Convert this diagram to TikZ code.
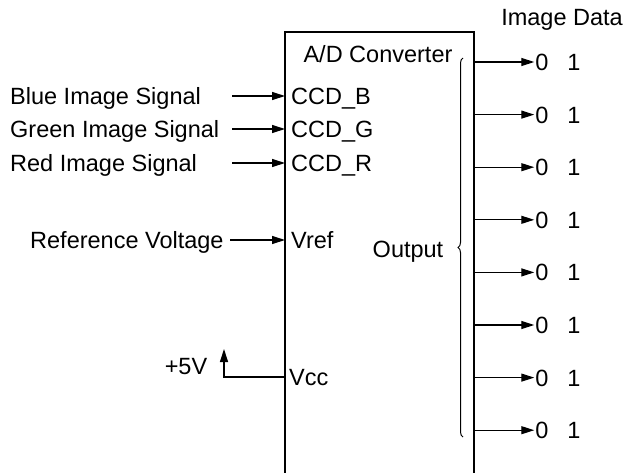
\documentclass[tikz,border=0pt]{standalone}
\usepackage{fontspec}
\setmainfont{Liberation Sans}
\usetikzlibrary{arrows.meta,decorations.pathreplacing,calc}
\begin{document}
\begin{tikzpicture}[x=1pt,y=-1pt,
  lbl/.style={font=\fontsize{23.5}{27}\selectfont, inner xsep=0pt, inner ysep=0pt, text height=16.8pt, text depth=0pt},
  pin/.style={lbl, anchor=west, inner xsep=6pt},
  conn/.style={line width=1.2pt},
  arr/.style={conn,-{Triangle[length=13pt,width=8pt]}},
  brc/.style={line width=1pt, decorate, decoration={brace, amplitude=5pt, aspect=0.5}},
]
\useasboundingbox (0,0) rectangle (627,472);
% converter box (open at the bottom edge of the picture)
\coordinate (bl) at (285,480);
\coordinate (tl) at (285,32);
\coordinate (tr) at (474,32);
\coordinate (br) at (474,480);
\draw[conn] (bl) -- (tl) -- (tr) -- (br);

\node[lbl] (title) at (378,54) {A/D Converter};
\node[lbl] (imgdata) at (562,17) {Image Data};
\node[lbl] (output) at (408,249) {Output};

% input pins
\node[pin] (ccdb) at (285,96) {CCD\_B};
\node[pin] (ccdg) at (285,129) {CCD\_G};
\node[pin] (ccdr) at (285,163) {CCD\_R};
\node[pin] (vref) at (285,240) {Vref};
\node[pin, inner xsep=4pt] (vcc) at (285,377) {Vcc};

% input labels
\node[lbl, anchor=west] (blue) at (10,96) {Blue Image Signal};
\node[lbl, anchor=west] (green) at (10,129) {Green Image Signal};
\node[lbl, anchor=west] (red) at (10,163) {Red Image Signal};
\node[lbl, anchor=west] (refv) at (30,240) {Reference Voltage};
\node[lbl] (p5v) at (186,366) {+5V};

\draw[arr] ($(ccdb.west)+(-53,0)$) -- (ccdb.west);
\draw[arr] ($(ccdg.west)+(-53,0)$) -- (ccdg.west);
\draw[arr] ($(ccdr.west)+(-53,0)$) -- (ccdr.west);
\draw[arr] ($(vref.west)+(-55,0)$) -- (vref.west);
\coordinate (vtip) at (224,349);
\draw[arr] (vcc.west) -| (vtip);

% outputs
\foreach \i in {0,...,7}{
  \pgfmathsetmacro{\yy}{62+52.6*\i}
  \coordinate (o\i) at (474,\yy);
  \node[lbl] (z\i) at (542,\yy) {0};
  \node[lbl] (u\i) at (574,\yy) {1};
  \draw[arr, shorten >=1pt] (o\i) -- (z\i.west);
}

% brace
\coordinate (bb) at (463,437);
\coordinate (bt) at (463,58);
\draw[brc] (bb) -- (bt);
\end{tikzpicture}
\end{document}
